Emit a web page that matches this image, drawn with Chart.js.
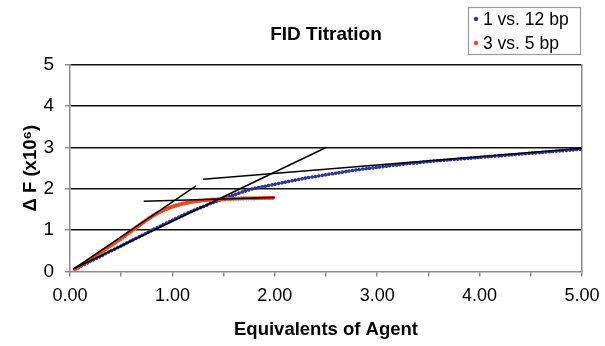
<!DOCTYPE html>
<html>
<head>
<meta charset="utf-8">
<script src="https://cdn.jsdelivr.net/npm/chart.js@4.4.0/dist/chart.umd.min.js"></script>
<style>
  html, body { margin: 0; padding: 0; background: #fff; }
</style>
</head>
<body>
<canvas id="chartFid" width="605" height="346"></canvas>
<script>
// equivalents of agent (x) and delta F (x10^6)
const eqBlue = [0.05, 0.1, 0.2, 0.3, 0.4, 0.5, 0.6, 0.7, 0.8, 0.9, 1.0, 1.1, 1.2, 1.3, 1.4, 1.5, 1.6, 1.7, 1.8, 1.9,
  2.0, 2.1, 2.2, 2.3, 2.4, 2.5, 2.6, 2.7, 2.8, 2.9, 3.0, 3.1, 3.2, 3.3, 3.4, 3.5, 3.6, 3.7, 3.8, 3.9,
  4.0, 4.1, 4.2, 4.3, 4.4, 4.5, 4.6, 4.7, 4.8, 4.9, 5.0];
const dfBlue = [0.06, 0.12, 0.25, 0.37, 0.50, 0.62, 0.75, 0.87, 1.00, 1.12, 1.24, 1.36, 1.47, 1.57, 1.67, 1.76, 1.85, 1.94, 2.01, 2.06,
  2.11, 2.16, 2.21, 2.26, 2.30, 2.34, 2.38, 2.42, 2.46, 2.49, 2.52, 2.55, 2.58, 2.61, 2.63, 2.66, 2.68, 2.70, 2.72, 2.74,
  2.76, 2.78, 2.80, 2.82, 2.84, 2.86, 2.88, 2.90, 2.92, 2.94, 2.96];

const eqRed = [0.05, 0.1, 0.2, 0.3, 0.4, 0.5, 0.6, 0.7, 0.8, 0.9, 1.0, 1.1, 1.2, 1.3, 1.4, 1.5, 1.6, 1.7, 1.8, 1.9, 2.0];
const dfRed = [0.06, 0.14, 0.30, 0.46, 0.63, 0.80, 0.98, 1.16, 1.33, 1.47, 1.57, 1.64, 1.69, 1.72, 1.74, 1.75, 1.76, 1.77, 1.77, 1.78, 1.78];

// hand-drawn tangent lines: [x0, y0, x1, y1]
const tangents = [
  [0.03, 0.06, 2.5, 3.0],
  [0.05, 0.08, 1.23, 2.07],
  [0.72, 1.70, 2.0, 1.79],
  [1.3, 2.23, 5.0, 2.98]
];

const seriesNames = ["1 vs. 12 bp", "3 vs. 5 bp"];
const seriesColors = ["#2f3599", "#f2471d"];
const xTicks = [0, 1, 2, 3, 4, 5];

const pts = (xs, ys) => xs.map((x, i) => ({ x: x, y: ys[i] }));

const dotted = (color, w, gap) => ({
  borderColor: color,
  borderWidth: w,
  borderDash: [0.01, gap],
  borderCapStyle: "round",
  pointRadius: 0,
  tension: 0.3,
  fill: false
});

const tangentSets = tangents.map(t => ({
  data: [{ x: t[0], y: t[1] }, { x: t[2], y: t[3] }],
  borderColor: "#000",
  borderWidth: 1.5,
  pointRadius: 0,
  order: 0
}));

const legendBox = {
  id: "legendBox",
  afterDraw(chart) {
    const c = chart.ctx;
    c.save();
    c.fillStyle = "#fff";
    c.strokeStyle = "#9a9a9a";
    c.lineWidth = 1.2;
    c.fillRect(468, 7, 113, 48);
    c.strokeRect(468.5, 7.5, 112, 47);
    c.font = "17.5px 'Liberation Sans', Arial, sans-serif";
    c.textBaseline = "middle";
    seriesNames.forEach((name, i) => {
      const y = 19 + i * 24;
      c.fillStyle = seriesColors[i];
      c.beginPath();
      c.arc(476, y, 2.2, 0, Math.PI * 2);
      c.fill();
      c.fillStyle = "#000";
      c.fillText(name, 483, y + 1);
    });
    c.restore();
  }
};

const gray = "#8c8c8c";
const fam = "'Liberation Sans', Arial, sans-serif";

new Chart(document.getElementById("chartFid"), {
  type: "line",
  data: {
    datasets: [
      ...tangentSets,
      Object.assign({ label: seriesNames[1], data: pts(eqRed, dfRed), order: 1 }, dotted(seriesColors[1], 4.2, 2.6)),
      Object.assign({ label: seriesNames[0], data: pts(eqBlue, dfBlue), order: 2 }, dotted(seriesColors[0], 3.6, 3.4))
    ]
  },
  options: {
    responsive: false,
    animation: false,
    layout: { padding: { left: 0, right: 23, top: 0, bottom: 0 } },
    plugins: {
      legend: { display: false },
      tooltip: { enabled: false },
      title: {
        display: true,
        text: "FID Titration",
        fullSize: false,
        color: "#000",
        font: { family: fam, size: 19, weight: "bold" },
        padding: { top: 23, bottom: 19 }
      }
    },
    scales: {
      x: {
        type: "linear",
        min: 0,
        max: 5,
        afterBuildTicks: s => {
          s.ticks = [];
          for (let v = 0; v <= 5; v += 0.5) s.ticks.push({ value: v });
        },
        ticks: {
          autoSkip: false,
          maxRotation: 0,
          color: "#000",
          padding: 9,
          font: { family: fam, size: 18 },
          callback: v => xTicks.includes(v) ? v.toFixed(2) : ""
        },
        grid: { drawOnChartArea: false, drawTicks: true, tickLength: 5, color: gray, lineWidth: 1.5 },
        border: { color: gray, width: 1.5 },
        title: {
          display: true,
          text: "Equivalents of Agent",
          color: "#000",
          font: { family: fam, size: 18.5, weight: "bold" },
          padding: { top: 12, bottom: 5 }
        },
        afterFit: s => {
          s.height = 74.5;
          s.paddingLeft = 0;
          s.paddingRight = 0;
        }
      },
      y: {
        min: 0,
        max: 5,
        ticks: {
          stepSize: 1,
          color: "#000",
          padding: 11,
          font: { family: fam, size: 19 }
        },
        grid: {
          color: c => (c.tick && c.tick.value === 0) ? "rgba(0,0,0,0)" : "#111",
          tickColor: gray,
          tickLength: 5,
          lineWidth: 1.5
        },
        border: { color: gray, width: 1.5 },
        title: {
          display: true,
          text: "\u0394 F (x10\u2076)",
          color: "#000",
          font: { family: fam, size: 18.5, weight: "bold" },
          padding: { top: 20, bottom: 0 }
        },
        afterFit: s => { s.width = 70; }
      },
      y2: {
        position: "right",
        min: 0,
        max: 5,
        ticks: { display: false },
        grid: { drawOnChartArea: false, drawTicks: false },
        border: { color: gray, width: 1.5 },
        afterFit: s => { s.width = 0; }
      }
    }
  },
  plugins: [legendBox]
});
</script>
</body>
</html>
